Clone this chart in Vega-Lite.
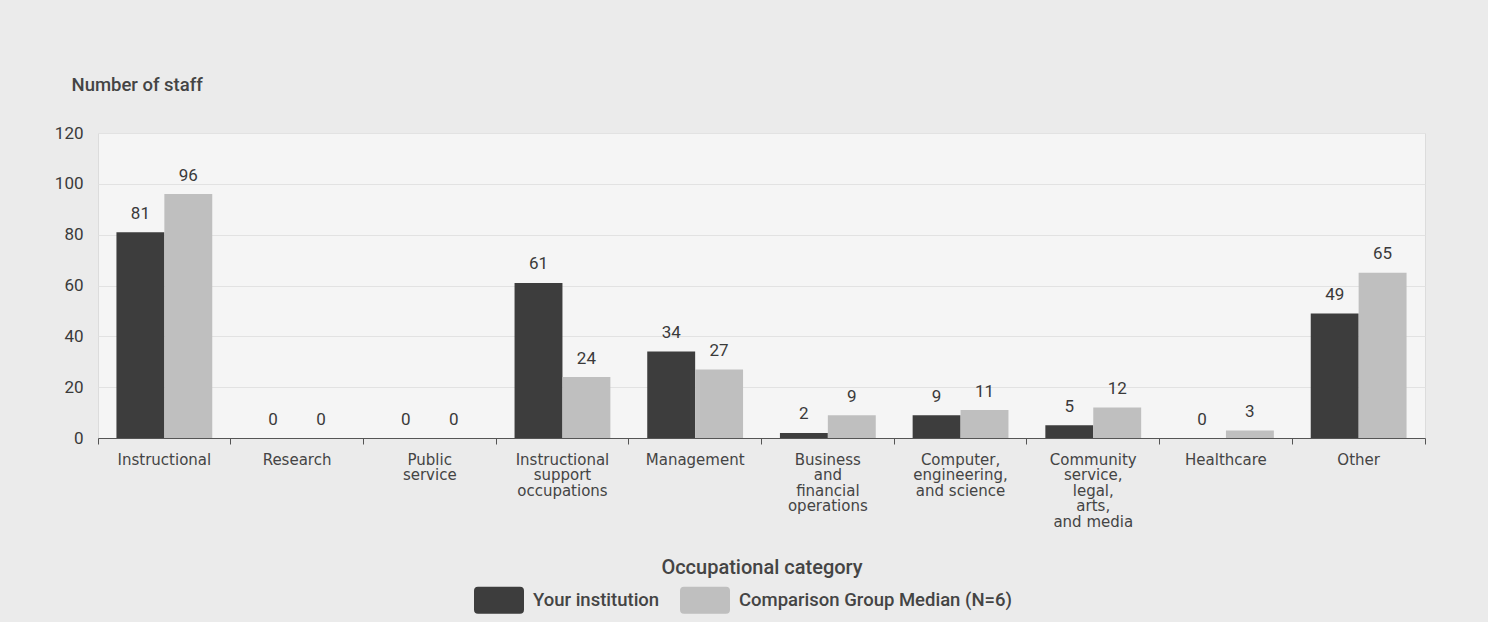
{
  "$schema": "https://vega.github.io/schema/vega-lite/v6.json",
  "width": 1327,
  "height": 305,
  "autosize": {"type": "none"},
  "padding": {"left": 98, "top": 133, "right": 63, "bottom": 184},
  "background": "#ebebeb",
  "config": {
    "view": {"fill": "#f5f5f5", "stroke": "#dcdcdc"},
    "font": "Roboto",
    "text": {"font": "Roboto"}
  },
  "data": {
    "values": [
      {"category": "Instructional", "series": "Your institution", "value": 81},
      {"category": "Instructional", "series": "Comparison Group Median (N=6)", "value": 96},
      {"category": "Research", "series": "Your institution", "value": 0},
      {"category": "Research", "series": "Comparison Group Median (N=6)", "value": 0},
      {"category": "Public service", "series": "Your institution", "value": 0},
      {"category": "Public service", "series": "Comparison Group Median (N=6)", "value": 0},
      {"category": "Instructional support occupations", "series": "Your institution", "value": 61},
      {"category": "Instructional support occupations", "series": "Comparison Group Median (N=6)", "value": 24},
      {"category": "Management", "series": "Your institution", "value": 34},
      {"category": "Management", "series": "Comparison Group Median (N=6)", "value": 27},
      {"category": "Business and financial operations", "series": "Your institution", "value": 2},
      {"category": "Business and financial operations", "series": "Comparison Group Median (N=6)", "value": 9},
      {"category": "Computer, engineering, and science", "series": "Your institution", "value": 9},
      {"category": "Computer, engineering, and science", "series": "Comparison Group Median (N=6)", "value": 11},
      {"category": "Community service, legal, arts, and media", "series": "Your institution", "value": 5},
      {"category": "Community service, legal, arts, and media", "series": "Comparison Group Median (N=6)", "value": 12},
      {"category": "Healthcare", "series": "Your institution", "value": 0},
      {"category": "Healthcare", "series": "Comparison Group Median (N=6)", "value": 3},
      {"category": "Other", "series": "Your institution", "value": 49},
      {"category": "Other", "series": "Comparison Group Median (N=6)", "value": 65}
    ]
  },
  "encoding": {
    "x": {
      "field": "category",
      "type": "nominal",
      "sort": null,
      "scale": {"paddingInner": 0, "paddingOuter": 0},
      "axis": {
        "title": "Occupational category",
        "titleFont": "Roboto",
        "titleFontSize": 20,
        "titleFontWeight": 500,
        "titleColor": "#444444",
        "titleBaseline": "alphabetic",
        "titleY": 135,
        "labelAngle": 0,
        "labelFont": "DejaVu Sans",
        "labelFontSize": 15,
        "labelLineHeight": 15.5,
        "labelColor": "#444444",
        "labelBaseline": "top",
        "labelPadding": 8,
        "labelLimit": 200,
        "bandPosition": 1,
        "tickExtra": true,
        "domainColor": "#555555",
        "tickColor": "#555555",
        "tickSize": 6,
        "labelExpr": "datum.label == 'Public service' ? ['Public','service'] : datum.label == 'Instructional support occupations' ? ['Instructional','support','occupations'] : datum.label == 'Business and financial operations' ? ['Business','and','financial','operations'] : datum.label == 'Computer, engineering, and science' ? ['Computer,','engineering,','and science'] : datum.label == 'Community service, legal, arts, and media' ? ['Community','service,','legal,','arts,','and media'] : datum.label"
      }
    },
    "xOffset": {
      "field": "series",
      "type": "nominal",
      "sort": ["Your institution", "Comparison Group Median (N=6)"],
      "scale": {"paddingInner": 0, "paddingOuter": 0.385}
    },
    "y": {
      "field": "value",
      "type": "quantitative",
      "scale": {"domain": [0, 120], "nice": false},
      "axis": {
        "values": [0, 20, 40, 60, 80, 100, 120],
        "title": "Number of staff",
        "titleAngle": 0,
        "titleAlign": "left",
        "titleBaseline": "alphabetic",
        "titleX": -27,
        "titleY": -43,
        "titleFont": "Roboto",
        "titleFontSize": 18.5,
        "titleFontWeight": 500,
        "titleColor": "#444444",
        "domain": false,
        "ticks": false,
        "labelPadding": 15,
        "labelFontSize": 17,
        "labelFontWeight": "normal",
        "labelColor": "#3a3a3a",
        "gridColor": "#e2e2e2",
        "gridWidth": 1
      }
    }
  },
  "layer": [
    {
      "mark": {"type": "bar"},
      "encoding": {
        "color": {
          "field": "series",
          "type": "nominal",
          "sort": ["Your institution", "Comparison Group Median (N=6)"],
          "scale": {
            "domain": ["Your institution", "Comparison Group Median (N=6)"],
            "range": ["#3d3d3d", "#bfbfbf"]
          },
          "legend": {
            "orient": "none",
            "legendX": 376,
            "legendY": 442,
            "direction": "horizontal",
            "title": null,
            "padding": 0,
            "symbolType": "M-0.84,-0.54L0.84,-0.54Q1,-0.54,1,-0.38L1,0.38Q1,0.54,0.84,0.54L-0.84,0.54Q-1,0.54,-1,0.38L-1,-0.38Q-1,-0.54,-0.84,-0.54Z",
            "symbolSize": 2500,
            "symbolStrokeWidth": 0,
            "symbolOpacity": 1,
            "labelFont": "Roboto",
            "labelFontSize": 18.5,
            "labelFontWeight": 500,
            "labelColor": "#444444",
            "labelOffset": 9,
            "columnPadding": 20,
            "labelLimit": 400
          }
        }
      }
    },
    {
      "mark": {"type": "text", "baseline": "alphabetic", "dy": -13.5, "fontSize": 17, "fontWeight": "normal", "color": "#3a3a3a"},
      "encoding": {
        "text": {"field": "value", "type": "quantitative"}
      }
    }
  ]
}
